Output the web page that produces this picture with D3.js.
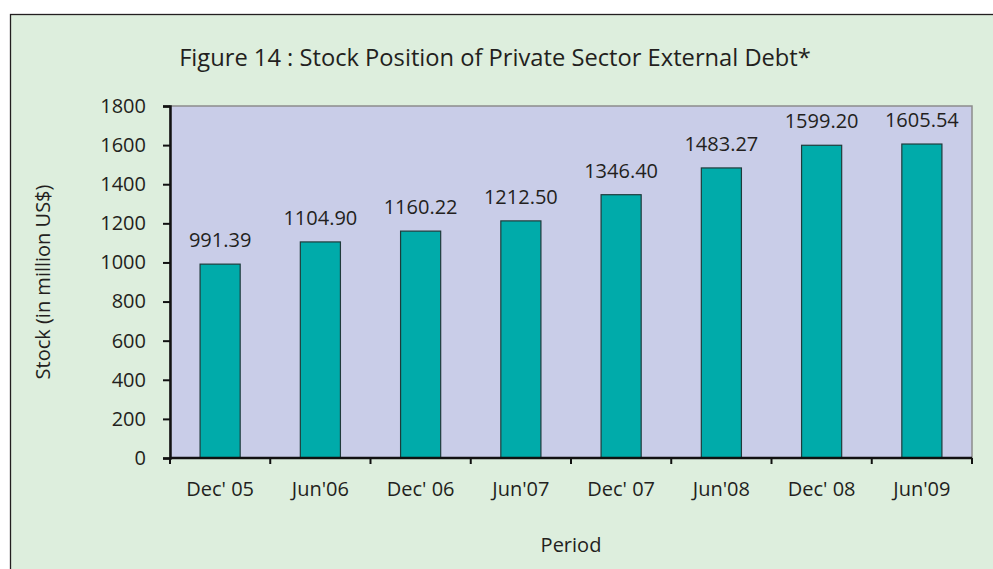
<!DOCTYPE html>
<html>
<head>
<meta charset="utf-8">
<script src="https://cdn.jsdelivr.net/npm/d3@7"></script>
<style>
  html, body { margin: 0; padding: 0; background: #ffffff; }
  svg text { font-family: "Open Sans", "DejaVu Sans", sans-serif; fill: #231f20; }
</style>
</head>
<body>
<div id="chart"></div>
<script>
// Daten
const periods = ["Dec' 05", "Jun'06", "Dec' 06", "Jun'07", "Dec' 07", "Jun'08", "Dec' 08", "Jun'09"];
const stock   = [991.39, 1104.90, 1160.22, 1212.50, 1346.40, 1483.27, 1599.20, 1605.54];
const yTicks  = [0, 200, 400, 600, 800, 1000, 1200, 1400, 1600, 1800];

const W = 993, H = 569;
const plot = { left: 170, top: 106, right: 972, bottom: 458 };

const svg = d3.select('#chart').append('svg')
  .attr('width', W).attr('height', H);

// Rahmen / Hintergrund
svg.append('rect')
  .attr('x', 10.5).attr('y', 14.5)
  .attr('width', W + 10).attr('height', H + 10)
  .attr('fill', '#ddeedd')
  .attr('stroke', '#231f20').attr('stroke-width', 1.3);

// Skalen
const x = d3.scaleBand()
  .domain(periods)
  .range([plot.left, plot.right])
  .paddingInner(0.6).paddingOuter(0.3);
const y = d3.scaleLinear()
  .domain([0, 1800])
  .range([plot.bottom, plot.top]);

// Plotfläche
svg.append('rect')
  .attr('x', plot.left).attr('y', plot.top)
  .attr('width', plot.right - plot.left).attr('height', plot.bottom - plot.top)
  .attr('fill', '#c9cde8')
  .attr('stroke', '#8c8c8c').attr('stroke-width', 1.5);

// Balken
svg.selectAll('rect.bar')
  .data(stock)
  .enter().append('rect')
    .attr('class', 'bar')
    .attr('x', (d, i) => x(periods[i]))
    .attr('y', d => y(d))
    .attr('width', x.bandwidth())
    .attr('height', d => y(0) - y(d))
    .attr('fill', '#00abaa')
    .attr('stroke', '#1f3b3b').attr('stroke-width', 1.2);

// Werte über den Balken
svg.selectAll('text.val')
  .data(stock)
  .enter().append('text')
    .attr('class', 'val')
    .attr('x', (d, i) => x(periods[i]) + x.bandwidth() / 2)
    .attr('y', d => y(d) - 17)
    .attr('text-anchor', 'middle')
    .style('font-size', '20px')
    .text(d => d.toFixed(2));

// Y-Achse
const yAxis = svg.append('g')
  .attr('transform', `translate(${plot.left},0)`)
  .call(d3.axisLeft(y).tickValues(yTicks).tickFormat(d3.format('d')).tickSize(7).tickPadding(17));
yAxis.select('.domain').attr('stroke', '#111').attr('stroke-width', 2.5);
yAxis.selectAll('.tick line').attr('stroke', '#111').attr('stroke-width', 2);
yAxis.selectAll('text').style('font-size', '20px').attr('fill', '#231f20');

// X-Achse (Ticks an Kategoriegrenzen)
const step = x.step();
const bounds = d3.range(periods.length + 1).map(i => plot.left + i * step);
const xAxis = svg.append('g')
  .attr('transform', `translate(0,${plot.bottom})`);
xAxis.append('line')
  .attr('x1', plot.left).attr('x2', plot.right)
  .attr('stroke', '#111').attr('stroke-width', 2.5);
xAxis.selectAll('line.tk')
  .data(bounds)
  .enter().append('line')
    .attr('class', 'tk')
    .attr('x1', d => d).attr('x2', d => d)
    .attr('y1', 0).attr('y2', 6)
    .attr('stroke', '#111').attr('stroke-width', 2);
xAxis.selectAll('text')
  .data(periods)
  .enter().append('text')
    .attr('x', d => x(d) + x.bandwidth() / 2)
    .attr('y', 38)
    .attr('text-anchor', 'middle')
    .style('font-size', '20px')
    .text(d => d);

// Titel
svg.append('text')
  .attr('x', 495).attr('y', 66)
  .attr('text-anchor', 'middle')
  .style('font-size', '23.7px')
  .text('Figure 14 : Stock Position of Private Sector External Debt*');

// Achsentitel
svg.append('text')
  .attr('transform', `translate(50,${(plot.top + plot.bottom) / 2}) rotate(-90)`)
  .attr('text-anchor', 'middle')
  .style('font-size', '20px')
  .text('Stock (in million US$)');

svg.append('text')
  .attr('x', (plot.left + plot.right) / 2).attr('y', 552)
  .attr('text-anchor', 'middle')
  .style('font-size', '20px')
  .text('Period');
</script>
</body>
</html>
